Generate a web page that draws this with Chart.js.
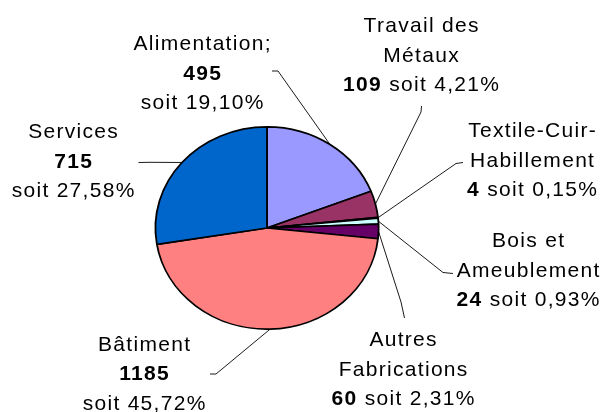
<!DOCTYPE html>
<html lang="fr">
<head>
    <meta charset="UTF-8">
    <title>Répartition par secteur</title>
    <script src="https://cdn.jsdelivr.net/npm/chart.js@4.4.0/dist/chart.umd.min.js"></script>
    <style>
        html, body { margin: 0; padding: 0; background: #fff; }
        #chart-container { width: 604px; height: 412px; }
    </style>
</head>
<body>
    <div id="chart-container">
        <canvas id="myChart" width="604" height="412"></canvas>
    </div>

    <script>
        // Data (clockwise from 12 o'clock)
        const categories = [
            ['Alimentation;'],
            ['Travail des', 'Métaux'],
            ['Textile-Cuir-', 'Habillement'],
            ['Bois et', 'Ameublement'],
            ['Autres', 'Fabrications'],
            ['Bâtiment'],
            ['Services']
        ];
        const counts = [495, 109, 4, 24, 60, 1185, 715];
        const pctLabels = ['19,10%', '4,21%', '0,15%', '0,93%', '2,31%', '45,72%', '27,58%'];
        const colors = ['#9999FF', '#993366', '#FFFFCC', '#CCFFFF', '#660066', '#FF8080', '#0066CC'];

        // Label placement: centre x, first baseline, leader start points
        const labelLayout = [
            { x: 202, y: 50,  lead: [[272, 71], [278, 71]] },
            { x: 421, y: 32,  lead: [[421.5, 106], [421, 112]] },
            { x: 532, y: 137, lead: [[463, 162.5], [456, 163.5]] },
            { x: 528, y: 247, lead: [[453, 273.5], [443, 272.5]] },
            { x: 403, y: 346, lead: [[404.5, 318], [401, 302]] },
            { x: 144, y: 350.5, lead: [[210, 374], [216, 374]] },
            { x: 73,  y: 138, lead: [[138.5, 162.5], [150, 162.3]] }
        ];

        const FONT = '"Liberation Sans", Arial, sans-serif';
        const FONT_SIZE = 21;
        const LINE_H = 29.5;
        const SPACING = 1.3;
        const SQUASH = 102 / 112.5;  // pie is drawn slightly flattened

        // flatten the pie vertically around its centre
        const ellipsePlugin = {
            id: 'ellipse',
            beforeDatasetsDraw(chart) {
                const arc = chart.getDatasetMeta(0).data[0];
                const ctx = chart.ctx;
                ctx.save();
                ctx.translate(arc.x, arc.y);
                ctx.scale(1, SQUASH);
                ctx.translate(-arc.x, -arc.y);
            },
            afterDatasetsDraw(chart) {
                chart.ctx.restore();
            }
        };

        function drawParts(ctx, parts, cx, y) {
            ctx.letterSpacing = SPACING + 'px';
            const widths = parts.map(p => {
                ctx.font = (p.bold ? 'bold ' : '') + FONT_SIZE + 'px ' + FONT;
                return ctx.measureText(p.text).width;
            });
            const total = widths.reduce((a, b) => a + b, 0) - SPACING;
            let x = cx - total / 2;
            ctx.textAlign = 'left';
            parts.forEach((p, i) => {
                ctx.font = (p.bold ? 'bold ' : '') + FONT_SIZE + 'px ' + FONT;
                ctx.fillText(p.text, x, y);
                x += widths[i];
            });
        }

        const labelPlugin = {
            id: 'pieLabels',
            afterDatasetsDraw(chart) {
                const ctx = chart.ctx;
                const arcs = chart.getDatasetMeta(0).data;
                ctx.save();
                // leader lines
                ctx.strokeStyle = '#000';
                ctx.lineWidth = 0.9;
                arcs.forEach((arc, i) => {
                    const mid = (arc.startAngle + arc.endAngle) / 2;
                    const r = arc.outerRadius;
                    const ax = arc.x + r * Math.cos(mid);
                    const ay = arc.y + r * Math.sin(mid) * SQUASH;
                    const pts = labelLayout[i].lead;
                    ctx.beginPath();
                    ctx.moveTo(pts[0][0], pts[0][1]);
                    for (let k = 1; k < pts.length; k++) ctx.lineTo(pts[k][0], pts[k][1]);
                    ctx.lineTo(ax, ay);
                    ctx.stroke();
                });
                // texts
                ctx.fillStyle = '#000';
                ctx.textBaseline = 'alphabetic';
                categories.forEach((names, i) => {
                    const lay = labelLayout[i];
                    let y = lay.y;
                    names.forEach(n => {
                        drawParts(ctx, [{ text: n }], lay.x, y);
                        y += LINE_H;
                    });
                    if (names.length > 1) {
                        drawParts(ctx, [{ text: String(counts[i]), bold: true }, { text: ' soit ' + pctLabels[i] }], lay.x, y);
                    } else {
                        drawParts(ctx, [{ text: String(counts[i]), bold: true }], lay.x, y);
                        y += LINE_H;
                        drawParts(ctx, [{ text: 'soit ' + pctLabels[i] }], lay.x, y);
                    }
                });
                ctx.restore();
            }
        };

        const ctx = document.getElementById('myChart').getContext('2d');
        const myChart = new Chart(ctx, {
            type: 'pie',
            data: {
                labels: categories.map(c => c.join(' ')),
                datasets: [{
                    data: counts,
                    backgroundColor: colors,
                    borderColor: '#000',
                    borderWidth: 1.8
                }]
            },
            options: {
                responsive: false,
                animation: false,
                layout: { padding: { left: 154.5, top: 115.5, right: 224.5, bottom: 71.5 } },
                plugins: {
                    legend: { display: false },
                    tooltip: { enabled: false }
                }
            },
            plugins: [ellipsePlugin, labelPlugin]
        });
    </script>
</body>
</html>
